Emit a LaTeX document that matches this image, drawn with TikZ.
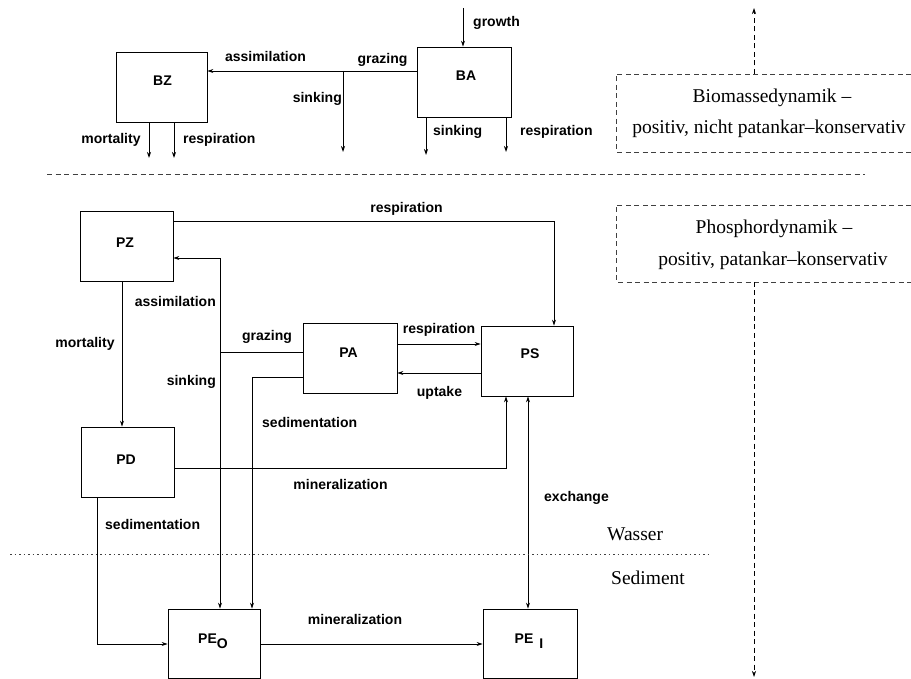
\documentclass[tikz,border=0pt]{standalone}
\usepackage{fontspec}
\setmainfont{Liberation Serif}
\setsansfont{Liberation Sans}
\usetikzlibrary{arrows.meta}
\newcommand\lbfont{\sffamily\bfseries\fontsize{14}{16}\selectfont}
\newcommand\serfont{\rmfamily\fontsize{19.5}{22}\selectfont}
\begin{document}
\begin{tikzpicture}[x=1pt,y=-1pt,
  box/.style={draw, line width=0.8pt, minimum height=70pt, inner sep=0pt},
  tx/.style={font=\lbfont, inner sep=0pt, anchor=base},
  txw/.style={tx, anchor=base west},
  txe/.style={tx, anchor=base east},
  ser/.style={font=\serfont, inner sep=0pt, anchor=base},
  ser w/.style={ser, anchor=base west},
  flow/.style={line width=0.8pt, -{Stealth[length=6pt,width=4pt]}},
  dsh/.style={line width=0.7pt, black!75, dash pattern=on 5pt off 3.5pt},
  dotline/.style={line width=0.8pt, black!75, dash pattern=on 1.5pt off 3pt},
]
\useasboundingbox (0,0) rectangle (911,679);

% boxes
\node[box, minimum width=91pt] (BZ) at (161.5,87) {};
\node[box, minimum width=94pt] (BA) at (464,82) {};
\node[box, minimum width=93pt] (PZ) at (126.5,246) {};
\node[box, minimum width=94pt] (PA) at (350,358) {};
\node[box, minimum width=92pt] (PS) at (527,361) {};
\node[box, minimum width=93pt] (PD) at (127.5,462) {};
\node[box, minimum width=92pt, minimum height=69pt] (PEO) at (214,643.5) {};
\node[box, minimum width=94pt, minimum height=69pt] (PEI) at (530,643.5) {};

% box labels
\node[tx] (BZt) at (162.5,86) {BZ};
\node[tx] (BAt) at (466,81) {BA};
\node[tx] (PZt) at (125,248) {PZ};
\node[tx] (PAt) at (348.5,357) {PA};
\node[tx] (PSt) at (530,359) {PS};
\node[tx] (PDt) at (126,464) {PD};
\node[tx] (PEOt) at (213,643) {PE\raisebox{-5pt}{O}};
\node[tx] (PEIt) at (529,643) {PE\hspace{6pt}\raisebox{-5pt}{I}};

% top: biomass flows
\coordinate (g0) at (463,8);
\draw[flow] (g0) -- (g0 |- BA.north);
\coordinate (h71) at (0,71);
\draw[flow] (BA.west |- h71) -- (BZ.east |- h71);
\coordinate (sk0) at (343,71);
\coordinate (sk1) at (343,152);
\draw[flow] (sk0) -- (sk1);
\coordinate (bzm) at (149,158);
\coordinate (bzr) at (174,158);
\coordinate (bas) at (426,155);
\coordinate (bar) at (506,152);
\draw[flow] (BZ.south -| bzm) -- (bzm);
\draw[flow] (BZ.south -| bzr) -- (bzr);
\draw[flow] (BA.south -| bas) -- (bas);
\draw[flow] (BA.south -| bar) -- (bar);

% phosphor flows
\coordinate (r1) at (554,221);
\draw[flow] (PZ.east |- r1) -- (r1) -- (r1 |- PS.north);
\coordinate (J) at (220,352);
\coordinate (a1) at (220,258);
\draw[flow] (PA.west |- J) -- (J) -- (a1) -- (PZ.east |- a1);
\draw[flow] (J) -- (J |- PEO.north);
\coordinate (s1) at (252,377);
\draw[flow] (PA.west |- s1) -- (s1) -- (s1 |- PEO.north);
\coordinate (p1) at (0,344);
\draw[flow] (PA.east |- p1) -- (PS.west |- p1);
\coordinate (p2) at (0,373);
\draw[flow] (PS.west |- p2) -- (PA.east |- p2);
\coordinate (m1) at (122,0);
\draw[flow] (PZ.south -| m1) -- (PD.north -| m1);
\coordinate (mn) at (506,468);
\draw[flow] (PD.east |- mn) -- (mn) -- (mn |- PS.south);
\coordinate (sd) at (97,644);
\draw[flow] (PD.south -| sd) -- (sd) -- (PEO.west |- sd);
\draw[flow] (PEO.east |- sd) -- (PEI.west |- sd);
\coordinate (ex) at (528,0);
\draw[line width=0.8pt, {Stealth[length=6pt,width=4pt]}-{Stealth[length=6pt,width=4pt]}] (PS.south -| ex) -- (PEI.north -| ex);

% flow labels
\node[txw] (lg) at (473,27) {growth};
\node[tx] (la1) at (265.5,62) {assimilation};
\node[tx] (lgr1) at (382.5,64) {grazing};
\node[txe] (lsk1) at (342,103) {sinking};
\node[tx] (lmo1) at (111,144) {mortality};
\node[txw] (lre1) at (183,144) {respiration};
\node[txw] (lsk2) at (433,136) {sinking};
\node[txw] (lre2) at (520,136) {respiration};
\node[tx] (lre3) at (406.5,213) {respiration};
\node[txe] (la2) at (216,306) {assimilation};
\node[txe] (lsk3) at (216,385) {sinking};
\node[tx] (lgr2) at (267,341) {grazing};
\node[txw] (lse1) at (262,427) {sedimentation};
\node[tx] (lre4) at (439,334) {respiration};
\node[tx] (lup) at (439.5,396) {uptake};
\node[tx] (lmo2) at (85,348) {mortality};
\node[tx] (lmi1) at (340.5,489) {mineralization};
\node[txw] (lex) at (544,501) {exchange};
\node[txw] (lse2) at (105,529) {sedimentation};
\node[tx] (lmi2) at (355,624) {mineralization};

% separators
\draw[dsh] (47,174) -- (865,174);
\draw[dotline] (10,554) -- (712,554);
\node[ser w] (wa) at (607,540) {Wasser};
\node[ser w] (se) at (611,584) {Sediment};

% right side: dashed boxes and arrows
\draw[dsh] (911,74) -- (616,74) -- (616,152) -- (911,152);
\draw[dsh] (911,205) -- (616,205) -- (616,282) -- (911,282);
\coordinate (v0) at (754,8);
\coordinate (v1) at (754,74);
\coordinate (v2) at (754,282);
\coordinate (v3) at (754,677);
\draw[dsh, black, -{Stealth[length=6pt,width=4pt]}] (v1) -- (v0);
\draw[dsh, black, -{Stealth[length=6pt,width=4pt]}] (v2) -- (v3);
\node[ser] (bio1) at (772,103) {Biomassedynamik –};
\node[ser] (bio2) at (769,134) {positiv, nicht patankar–konservativ};
\node[ser] (ph1) at (774,234) {Phosphordynamik –};
\node[ser] (ph2) at (773,266) {positiv, patankar–konservativ};
\end{tikzpicture}
\end{document}
